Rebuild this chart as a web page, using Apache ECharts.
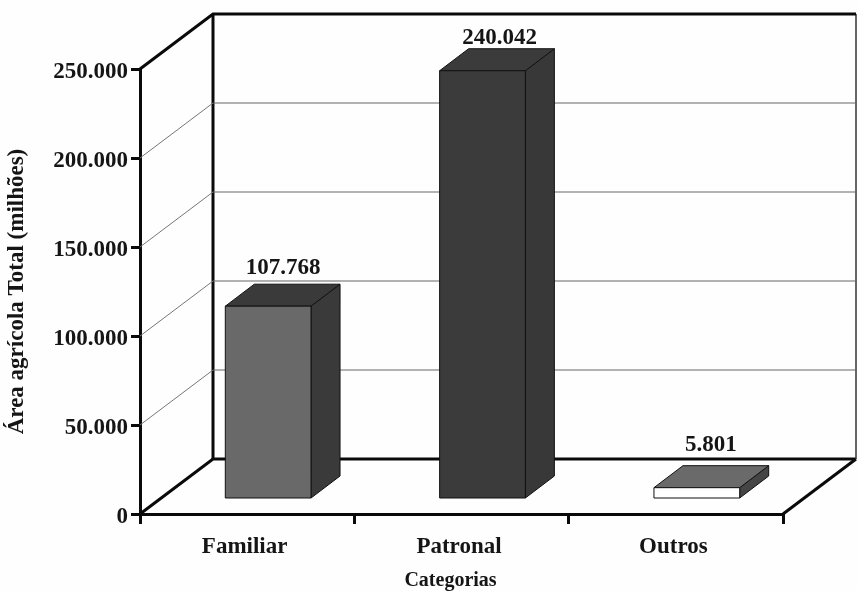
<!DOCTYPE html>
<html><head><meta charset="utf-8">
<style>html,body{margin:0;padding:0;background:#fefefe}#c{width:857px;height:591px;filter:blur(0.6px)}</style>
<script src="https://cdn.jsdelivr.net/npm/echarts@6/dist/echarts.min.js"></script>
</head><body><div id="c"></div>
<script>
const categories = ['Familiar', 'Patronal', 'Outros'];
const areaValues = [107768, 240042, 5801];
const valueTicks = [0, 50000, 100000, 150000, 200000, 250000];

const FONT = '"Liberation Serif", serif';
const fmt = v => String(v).replace(/\B(?=(\d{3})+$)/g, '.');
const WALL = [73, -55];      // depth of the box
const BAR_NEAR = [21, -16];  // front face of the bars inside the box
const BAR_DEPTH = [29, -22];
const faceFill = ['#696969', '#3b3b3b', '#ffffff'];
const topFill = ['#3a3a3a', '#3b3b3b', '#6a6a6a'];
const sideFill = ['#3a3a3a', '#383838', '#454545'];
const labelNudge = [[-14, -16], [-12, -11], [-15, -21]];

const chart = echarts.init(document.getElementById('c'));

function line(pts, stroke, w) {
  return { type: 'polyline', shape: { points: pts }, style: { fill: null, stroke, lineWidth: w, lineJoin: 'miter' }, silent: true };
}
function poly(pts, fill) {
  return { type: 'polygon', shape: { points: pts }, style: { fill, stroke: '#111', lineWidth: 1 }, silent: true };
}

function renderWall(params, api) {
  const v = api.value(1);
  const r = params.coordSys;
  const y = api.coord([0, v])[1];
  const L = r.x, R = r.x + r.width;
  const bl = [L + WALL[0], y + WALL[1]], br = [R + WALL[0], y + WALL[1]];
  const outer = v === valueTicks[0] || v === valueTicks[valueTicks.length - 1];
  const children = [];
  if (outer) {
    children.push(line([[L, y], bl, br], '#0a0a0a', 3));
    if (v === valueTicks[0]) {
      children.push(line([[R, y], br], '#0a0a0a', 3));
      children.push(line([bl, [bl[0], r.y + WALL[1]]], '#0a0a0a', 3));
      children.push(line([br, [br[0], r.y + WALL[1]]], '#333', 1.5));
    }
  } else {
    children.push(line([[L, y], bl], '#777', 1));
    children.push(line([bl, br], '#666', 1.2));
  }
  return { type: 'group', children };
}

function renderBar(params, api) {
  const i = params.dataIndex;
  const val = api.value(1);
  const base = api.coord([i, 0]);
  const top = api.coord([i, val]);
  const w = api.size([1, 0])[0] * 0.4;
  const x0 = base[0] - w / 2 + BAR_NEAR[0], x1 = x0 + w;
  const yB = base[1] + BAR_NEAR[1], yT = top[1] + BAR_NEAR[1];
  const dx = BAR_DEPTH[0], dy = BAR_DEPTH[1];
  const children = [
    poly([[x1, yT], [x1 + dx, yT + dy], [x1 + dx, yB + dy], [x1, yB]], sideFill[i]),
    poly([[x0, yT], [x0 + dx, yT + dy], [x1 + dx, yT + dy], [x1, yT]], topFill[i]),
    poly([[x0, yT], [x1, yT], [x1, yB], [x0, yB]], faceFill[i]),
    { type: 'text', silent: true,
      style: { x: base[0] + BAR_NEAR[0] + dx + labelNudge[i][0], y: yT + dy + labelNudge[i][1], text: fmt(val),
        fill: '#151515', font: 'bold 23px ' + FONT, textAlign: 'center', textVerticalAlign: 'middle' } }
  ];
  return { type: 'group', children };
}

chart.setOption({
  animation: false,
  backgroundColor: '#fefefe',
  grid: { left: 140, top: 69, width: 643, height: 445, containLabel: false, outerBoundsMode: 'none' },
  xAxis: {
    type: 'category', data: categories,
    axisLine: { lineStyle: { color: '#0a0a0a', width: 3 } },
    axisTick: { show: true, length: 10, lineStyle: { color: '#0a0a0a', width: 3 } },
    axisLabel: { color: '#151515', fontFamily: FONT, fontWeight: 'bold', fontSize: 23, margin: 22, padding: [0, 5, 0, 0] },
    name: 'Categorias', nameLocation: 'middle', nameGap: 57,
    nameTextStyle: { color: '#151515', fontFamily: FONT, fontWeight: 'bold', fontSize: 20, padding: [0, 22, 0, 0] }
  },
  yAxis: {
    type: 'value', min: 0, max: 250000, interval: 50000,
    axisLine: { show: true, lineStyle: { color: '#0a0a0a', width: 3 } },
    axisTick: { show: true, length: 9, lineStyle: { color: '#0a0a0a', width: 3 } },
    splitLine: { show: false },
    axisLabel: { color: '#151515', fontFamily: FONT, fontWeight: 'bold', fontSize: 23, margin: 12, verticalAlign: 'top', lineHeight: 6, formatter: fmt },
    name: 'Área agrícola Total (milhões)', nameLocation: 'middle', nameGap: 111, nameRotate: 90,
    nameTextStyle: { color: '#151515', fontFamily: FONT, fontWeight: 'bold', fontSize: 23 }
  },
  series: [
    { type: 'custom', z: 1, silent: true, clip: false, renderItem: renderWall,
      data: valueTicks.map(v => [0, v]), encode: { x: 0, y: 1 } },
    { type: 'custom', z: 3, silent: true, clip: false, renderItem: renderBar,
      data: areaValues.map((v, i) => [i, v]), encode: { x: 0, y: 1 } }
  ]
});
</script></body></html>
